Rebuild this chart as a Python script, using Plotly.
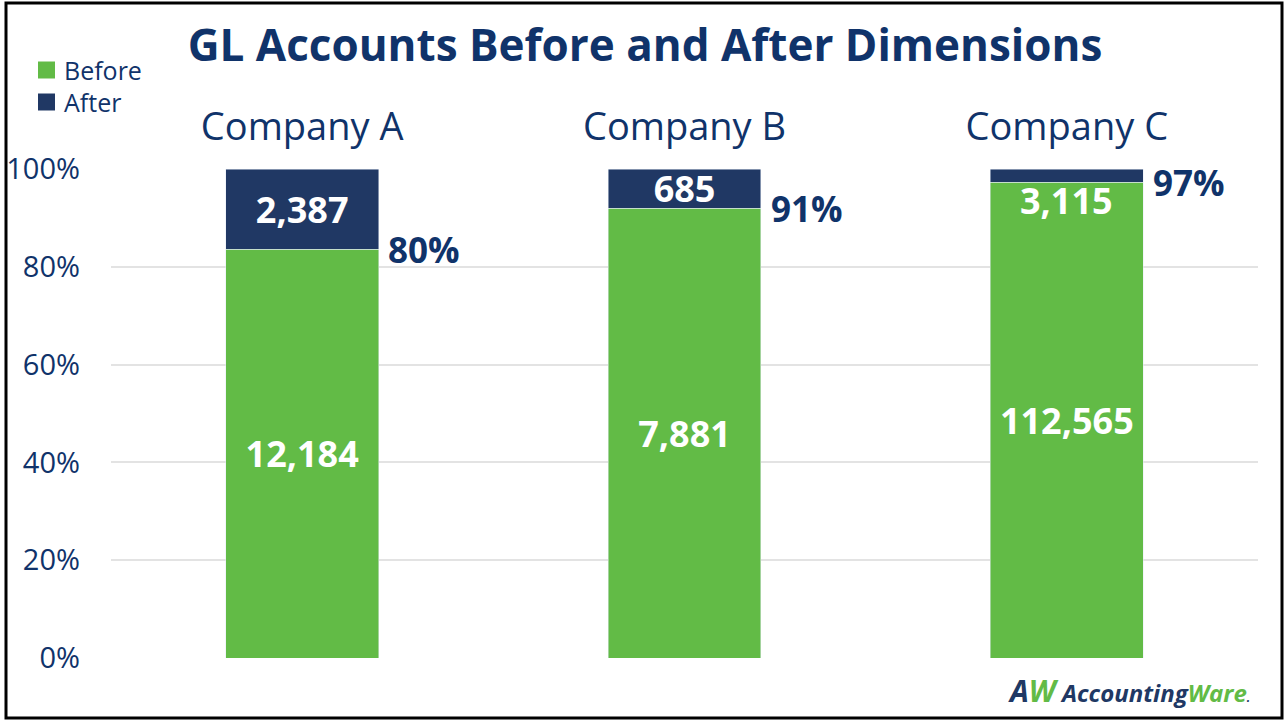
import plotly.graph_objects as go

# ---- data ----
companies = ["Company A", "Company B", "Company C"]
before_vals = [12184, 7881, 112565]
after_vals = [2387, 685, 3115]
reduction_labels = ["80%", "91%", "97%"]
series_names = ["Before", "After"]
y_ticks = [0, 0.2, 0.4, 0.6, 0.8, 1.0]
y_tick_labels = ["0%", "20%", "40%", "60%", "80%", "100%"]

GREEN = "#62bb46"
NAVY = "#203864"
TEXT_NAVY = "#10336a"
FONT = "Open Sans"

W, H = 1288, 721
L, R, T, B = 111, 30, 169, 63
PW, PH = W - L - R, H - T - B


def px_x(x):
    return (x - L) / PW


def px_y(y):
    return (H - B - y) / PH


def fmt(v):
    return f"{v:,}"

# navy labels: inside segment where it fits, else annotation
after_text = [fmt(v) if a / (a + b) > 0.05 else "" for v, a, b in zip(after_vals, after_vals, before_vals)]

fig = go.Figure()
fig.add_trace(go.Bar(
    name=series_names[0], x=companies, y=before_vals, marker_color=GREEN,
    text=[fmt(v) for v in before_vals], textposition="inside",
    insidetextanchor="middle", constraintext="none",
    textfont=dict(family=FONT, size=36, color="white", weight="bold"),
    width=0.4, showlegend=False,
))
fig.add_trace(go.Bar(
    name=series_names[1], x=companies, y=after_vals, marker_color=NAVY,
    text=after_text, textposition="inside", insidetextanchor="middle",
    constraintext="none",
    textfont=dict(family=FONT, size=36, color="white", weight="bold"),
    width=0.4, showlegend=False,
))

annotations = []
shapes = []
for c, a, b, t, red in zip(companies, after_vals, before_vals, after_text, reduction_labels):
    frac_before = b / (a + b)
    annotations.append(dict(
        x=c, y=frac_before, xref="x", yref="y", text=f"<b>{red}</b>",
        showarrow=False, xanchor="left", yanchor="middle", xshift=84,
        font=dict(family=FONT, size=35, color=TEXT_NAVY),
    ))
    if t == "":
        annotations.append(dict(
            x=c, y=1.0, xref="x", yref="y", text=f"<b>{fmt(a)}</b>",
            showarrow=False, xanchor="center", yanchor="middle", yshift=-31,
            font=dict(family=FONT, size=36, color="white"),
        ))

# legend (drawn manually for exact spacing)
for i, (name, col) in enumerate(zip(series_names, [GREEN, NAVY])):
    cy = 70 + 32 * i
    shapes.append(dict(type="rect", xref="paper", yref="paper",
                       x0=px_x(38), x1=px_x(55), y0=px_y(cy + 8.5), y1=px_y(cy - 8.5),
                       line=dict(width=0), fillcolor=col))
    annotations.append(dict(
        x=px_x(62), y=px_y(cy), xref="paper", yref="paper", text=name,
        showarrow=False, xanchor="left", yanchor="middle",
        font=dict(family=FONT, size=25, color=TEXT_NAVY),
    ))

# logo
annotations.append(dict(
    x=px_x(1252), y=px_y(690), xref="paper", yref="paper",
    xanchor="right", yanchor="middle", showarrow=False,
    text=(f"<b><i><span style='color:{NAVY};font-size:30px'>A</span>"
          f"<span style='color:{GREEN};font-size:30px'>W</span> "
          f"<span style='color:{NAVY}'>Accounting</span><span style='color:{GREEN}'>Ware</span>"
          f"<span style='color:{NAVY};font-size:12px'>.</span></i></b>"),
    font=dict(family=FONT, size=24, color=NAVY),
))

# outer border
shapes.append(dict(type="rect", xref="paper", yref="paper",
                   x0=px_x(6), x1=px_x(1282), y0=px_y(718), y1=px_y(3),
                   line=dict(color="black", width=3), fillcolor="rgba(0,0,0,0)",
                   layer="above"))

fig.update_layout(
    width=W, height=H,
    margin=dict(l=L, r=R, t=T, b=B, pad=0, autoexpand=False),
    paper_bgcolor="white", plot_bgcolor="white",
    barmode="stack", barnorm="fraction", bargap=0.6,
    showlegend=False,
    title=dict(text="<b>GL Accounts Before and After Dimensions</b>",
               x=px_x(645), xref="paper", y=1 - 46 / H, yref="container",
               xanchor="center", yanchor="middle",
               font=dict(family=FONT, size=44, color=TEXT_NAVY)),
    xaxis=dict(side="top", showgrid=False, showline=False, ticks="",
               tickfont=dict(family=FONT, size=38, color=TEXT_NAVY),
               ticklabelstandoff=20),
    yaxis=dict(range=[0, 1], tickvals=y_ticks, ticktext=y_tick_labels,
               showgrid=True, gridcolor="#e3e3e3", gridwidth=1.5,
               zeroline=False, showline=False, ticks="",
               tickfont=dict(family=FONT, size=29, color=TEXT_NAVY),
               ticklabelstandoff=30),
    annotations=annotations,
    shapes=shapes,
)

fig.write_html("out.html", post_script="document.body.style.margin='0px';",
               config={"displayModeBar": False})
